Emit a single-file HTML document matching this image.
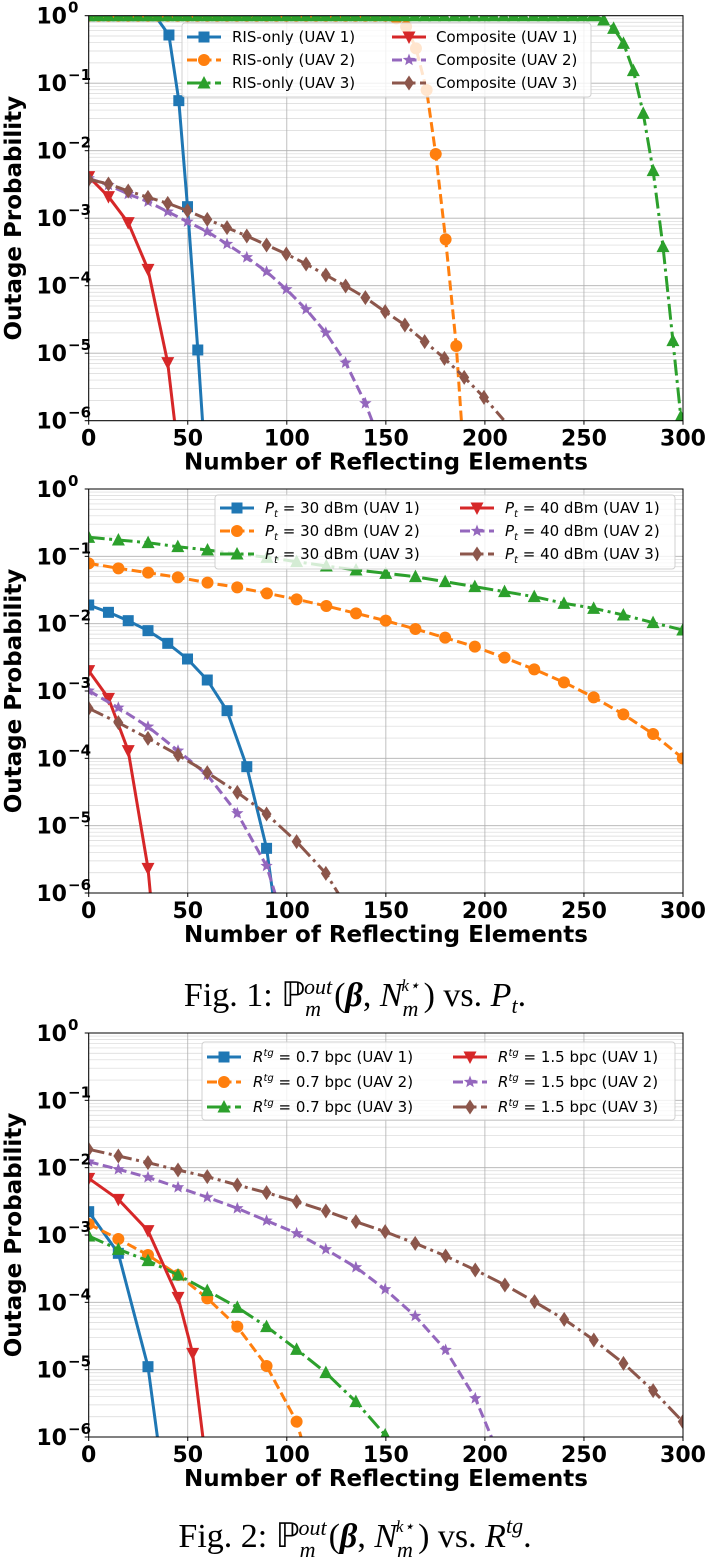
<!DOCTYPE html>
<html><head><meta charset="utf-8"><style>
html,body{margin:0;padding:0;background:#fff}
svg{display:block}
</style></head><body>
<svg id="s" width="710" height="1562" xmlns="http://www.w3.org/2000/svg" font-family="'DejaVu Sans','Liberation Sans',sans-serif"></svg>
<script>
const S=document.getElementById('s');
const NS='http://www.w3.org/2000/svg';
function el(t,a,p){const e=document.createElementNS(NS,t);for(const k in a)e.setAttribute(k,a[k]);(p||S).appendChild(e);return e;}
const X0=88.7,X1=683;
const C={b:'#1f77b4',o:'#ff7f0e',g:'#2ca02c',r:'#d62728',p:'#9467bd',br:'#8c564b'};
const DASH={solid:'',dash:'10,4.5',dd:'16,4.5,3,4.5'};
function marker(g,type,x,y,col){
  const s=5.5;
  if(type=='sq')el('rect',{x:x-s,y:y-s,width:2*s,height:2*s,fill:col},g);
  else if(type=='ci')el('circle',{cx:x,cy:y,r:s+0.5,fill:col},g);
  else if(type=='tu')el('polygon',{points:`${x},${y-s-1.5} ${x+s+1},${y+s} ${x-s-1},${y+s}`,fill:col},g);
  else if(type=='td')el('polygon',{points:`${x},${y+s+1.5} ${x+s+1},${y-s} ${x-s-1},${y-s}`,fill:col},g);
  else if(type=='st'){let p=[];for(let i=0;i<10;i++){const r=i%2?2.8:6.5;const a=-Math.PI/2+i*Math.PI/5;p.push((x+r*Math.cos(a)).toFixed(1)+','+(y+r*Math.sin(a)).toFixed(1));}el('polygon',{points:p.join(' '),fill:col},g);}
  else if(type=='di')el('polygon',{points:`${x},${y-7.5} ${x+5},${y} ${x},${y+7.5} ${x-5},${y}`,fill:col},g);
}
let cid=0;
function plot(top,bot,zy0,series,legend){
  const id='c'+(cid++);
  const cp=el('clipPath',{id});el('rect',{x:X0,y:top,width:X1-X0,height:bot-top},cp);
  const dec=(bot-top)/6;
  for(let d=0;d<6;d++)for(let m=2;m<=9;m++){const y=top+dec*(d+1)-Math.log10(m)*dec;el('line',{x1:X0,x2:X1,y1:y,y2:y,stroke:'#d8d8d8','stroke-width':0.7});}
  for(let d=0;d<=6;d++){const y=top+dec*d;el('line',{x1:X0,x2:X1,y1:y,y2:y,stroke:'#b0b0b0','stroke-width':0.8});}
  for(let i=0;i<=6;i++){const x=X0+(X1-X0)*i/6;el('line',{x1:x,x2:x,y1:top,y2:bot,stroke:'#b0b0b0','stroke-width':0.8});}
  const g=el('g',{'clip-path':`url(#${id})`});
  for(const s of series){
    const pts=s.p.map(q=>[80+q[0]/2.53,zy0+q[1]/3]);
    el('polyline',{points:pts.map(q=>q[0].toFixed(1)+','+q[1].toFixed(1)).join(' '),fill:'none',stroke:s.c,'stroke-width':3,'stroke-dasharray':DASH[s.d],'stroke-linejoin':'round'},g);
    for(const q of pts){ if(q[1]<bot-1) marker(g,s.m,q[0],q[1],s.c); }
    if(s.top){for(let zx=22;zx<s.top;zx+=25)marker(g,s.m,80+zx/2.53,top,s.c);}
  }
  el('rect',{x:X0,y:top,width:X1-X0,height:bot-top,fill:'none',stroke:'#000','stroke-width':1});
  for(let d=0;d<=6;d++){const y=top+dec*d;
    const t=el('text',{x:67,y:y+8,'text-anchor':'end','font-size':22,'font-weight':'bold'});t.textContent='10';
    const e=el('text',{x:68,y:y-3,'font-size':15,'font-weight':'bold'});e.textContent=d==0?'0':'\u2212'+d;
    el('line',{x1:X0-4,x2:X0,y1:y,y2:y,stroke:'#000'});}
  for(let i=0;i<=6;i++){const x=X0+(X1-X0)*i/6;const t=el('text',{x:x,y:bot+25,'text-anchor':'middle','font-size':22,'font-weight':'bold'});t.textContent=i*50;el('line',{x1:x,x2:x,y1:bot,y2:bot+4,stroke:'#000'});}
  const xl=el('text',{x:386,y:bot+49,'text-anchor':'middle','font-size':23,'font-weight':'bold'});xl.textContent='Number of Reflecting Elements';
  const yl=el('text',{x:0,y:0,'text-anchor':'middle','font-size':23,'font-weight':'bold',transform:`translate(21,${(top+bot)/2}) rotate(-90)`});yl.textContent='Outage Probability';
  const L=legend;
  el('rect',{x:L.x,y:L.y,width:L.w,height:L.h,rx:3,fill:'#fff','fill-opacity':0.8,stroke:'#d0d0d0'});
  L.items.forEach((it,i)=>{const col=Math.floor(i/3),row=i%3;const y=L.rows[row];const hx=L.hx[col];
    el('line',{x1:hx,x2:hx+34,y1:y,y2:y,stroke:it.c,'stroke-width':3,'stroke-dasharray':DASH[it.d]});
    marker(S,it.m,hx+17,y,it.c);
    const t=el('text',{x:L.tx[col],y:y+5,'font-size':15});t.innerHTML=it.t;});
}
plot(15.7,420.7,0,[
 {c:C.b,d:'solid',m:'sq',top:200,p:[[22,47],[190,47],[225,105],[250,302],[272,620],[298,1050],[310,1262]]},
 {c:C.o,d:'dash',m:'ci',top:790,p:[[22,47],[790,47],[800,55],[825,80],[850,145],[877,270],[900,462],[925,718],[952,1038],[965,1262]]},
 {c:C.g,d:'dd',m:'tu',top:1300,p:[[22,47],[1300,47],[1325,60],[1350,85],[1375,130],[1400,212],[1425,340],[1450,512],[1475,740],[1500,1022],[1520,1250]]},
 {c:C.r,d:'solid',m:'td',p:[[22,530],[72,590],[122,668],[172,808],[222,1088],[240,1272]]},
 {c:C.p,d:'dash',m:'st',p:[[22,535],[72,555],[122,582],[172,605],[222,635],[272,665],[322,695],[372,732],[422,772],[472,815],[522,868],[572,928],[622,998],[672,1088],[722,1210],[742,1272]]},
 {c:C.br,d:'dd',m:'di',p:[[22,538],[72,552],[122,573],[172,592],[222,610],[272,632],[322,658],[372,683],[422,708],[472,735],[522,762],[572,792],[622,825],[672,858],[722,893],[772,935],[822,975],[872,1025],[922,1075],[972,1132],[1022,1192],[1072,1260]]}
],{x:182,y:23,w:409,h:74,rows:[37,60,83],hx:[187,392],tx:[232,436],items:[
 {c:C.b,d:'solid',m:'sq',t:'RIS-only (UAV 1)'},{c:C.o,d:'dash',m:'ci',t:'RIS-only (UAV 2)'},{c:C.g,d:'dd',m:'tu',t:'RIS-only (UAV 3)'},
 {c:C.r,d:'solid',m:'td',t:'Composite (UAV 1)'},{c:C.p,d:'dash',m:'st',t:'Composite (UAV 2)'},{c:C.br,d:'dd',m:'di',t:'Composite (UAV 3)'}]});
const pt=(v,u)=>`<tspan font-style="italic">P</tspan><tspan font-style="italic" font-size="10" dy="4">t</tspan><tspan dy="-4"> = ${v} dBm (UAV ${u})</tspan>`;
const gx=[];for(let i=0;i<21;i++)gx.push(22+i*75.15);
const gy=[172,180,188,200,210,222,232,245,258,270,280,290,305,320,335,350,370,385,405,428,450];
const oy=[250,265,278,292,308,322,340,358,378,400,422,447,473,500,533,568,607,652,703,762,835];
plot(489,893,480,[
 {c:C.b,d:'solid',m:'sq',p:[[22,375],[72,397],[122,422],[172,452],[222,490],[272,537],[322,600],[372,692],[422,860],[472,1105],[490,1260]]},
 {c:C.o,d:'dash',m:'ci',p:gx.map((x,i)=>[x,oy[i]])},
 {c:C.g,d:'dd',m:'tu',p:gx.map((x,i)=>[x,gy[i]])},
 {c:C.r,d:'solid',m:'td',p:[[22,572],[72,655],[122,812],[172,1165],[180,1265]]},
 {c:C.p,d:'dash',m:'st',p:[[22,632],[97,683],[172,740],[248,812],[322,885],[398,1000],[472,1158],[500,1265]]},
 {c:C.br,d:'dd',m:'di',p:[[22,685],[97,728],[172,775],[248,825],[322,878],[398,937],[472,1002],[548,1085],[622,1180],[665,1262]]}
],{x:215,y:495,w:460,h:74,rows:[508,531,554],hx:[220,460],tx:[265,505],items:[
 {c:C.b,d:'solid',m:'sq',t:pt(30,1)},{c:C.o,d:'dash',m:'ci',t:pt(30,2)},{c:C.g,d:'dd',m:'tu',t:pt(30,3)},
 {c:C.r,d:'solid',m:'td',t:pt(40,1)},{c:C.p,d:'dash',m:'st',t:pt(40,2)},{c:C.br,d:'dd',m:'di',t:pt(40,3)}]});
const rt=(v,u)=>`<tspan font-style="italic">R</tspan><tspan font-style="italic" font-size="10" dy="-6">tg</tspan><tspan dy="6"> = ${v} bpc (UAV ${u})</tspan>`;
plot(1033,1437,1020,[
 {c:C.b,d:'solid',m:'sq',p:[[22,575],[97,700],[172,1040],[197,1262]]},
 {c:C.o,d:'dash',m:'ci',p:[[22,612],[97,657],[172,705],[248,765],[322,835],[398,920],[472,1038],[548,1205],[562,1262]]},
 {c:C.g,d:'dd',m:'tu',p:[[22,648],[97,688],[172,722],[248,765],[322,812],[398,862],[472,920],[548,988],[622,1058],[698,1145],[772,1245],[778,1262]]},
 {c:C.r,d:'solid',m:'td',p:[[22,475],[97,538],[172,632],[248,832],[285,1000],[312,1262]]},
 {c:C.p,d:'dash',m:'st',p:[[22,425],[97,448],[172,472],[248,502],[322,532],[398,565],[472,602],[548,640],[622,688],[698,742],[772,808],[848,888],[925,990],[1000,1135],[1045,1262]]},
 {c:C.br,d:'dd',m:'di',p:[[22,388],[97,408],[172,428],[248,450],[322,470],[398,495],[472,518],[548,545],[622,573],[698,605],[772,635],[848,670],[925,708],[1000,750],[1075,795],[1150,845],[1225,898],[1300,960],[1375,1030],[1450,1112],[1525,1205]]}
],{x:202,y:1042,w:473,h:78,rows:[1057,1082,1107],hx:[207,453],tx:[253,498],items:[
 {c:C.b,d:'solid',m:'sq',t:rt('0.7',1)},{c:C.o,d:'dash',m:'ci',t:rt('0.7',2)},{c:C.g,d:'dd',m:'tu',t:rt('0.7',3)},
 {c:C.r,d:'solid',m:'td',t:rt('1.5',1)},{c:C.p,d:'dash',m:'st',t:rt('1.5',2)},{c:C.br,d:'dd',m:'di',t:rt('1.5',3)}]});
function cap(y,tail){const t=el('text',{x:355,y:y,'text-anchor':'middle','font-size':34,'font-family':"'Liberation Serif',serif"});
 t.innerHTML=`Fig. ${tail[0]}: ℙ<tspan font-size="22" dy="10" font-style="italic">m</tspan><tspan font-size="22" dy="-22" dx="-17" font-style="italic">out</tspan><tspan dy="12" dx="2">(</tspan><tspan font-weight="bold" font-style="italic">β</tspan>, <tspan font-style="italic">N</tspan><tspan font-size="22" dy="10" font-style="italic">m</tspan><tspan font-size="17" dy="-25" dx="-17" font-style="italic">k⋆</tspan><tspan dy="15" dx="4">) vs. </tspan>${tail[1]}`;}
cap(1006,['1','<tspan font-style="italic">P</tspan><tspan font-size="22" dy="7" font-style="italic">t</tspan><tspan dy="-7">.</tspan>']);
cap(1547,['2','<tspan font-style="italic">R</tspan><tspan font-size="22" dy="-14" font-style="italic">tg</tspan><tspan dy="14">.</tspan>']);
</script>
</body></html>
